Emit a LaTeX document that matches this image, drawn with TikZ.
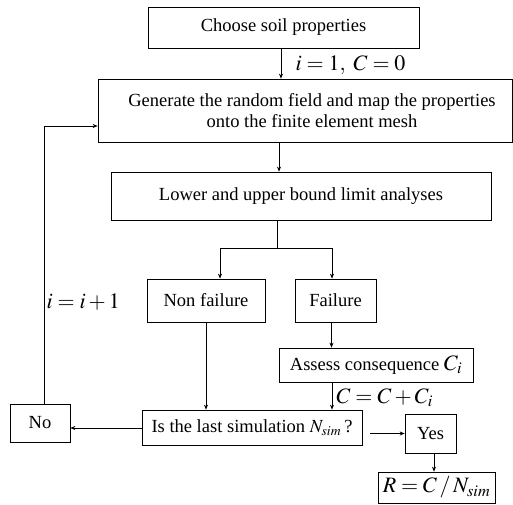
\documentclass[tikz,border=0pt]{standalone}
\usepackage[no-math]{fontspec}
\usepackage{mathptmx}
\setmainfont{Liberation Serif}
\usetikzlibrary{arrows.meta,calc}
\begin{document}
\begin{tikzpicture}[x=1pt,y=1pt,
  box/.style={draw,line width=0.7pt,inner sep=0pt,align=center,font=\fontsize{18.5}{21}\selectfont},
  arr/.style={line width=0.7pt,-{Stealth[length=5pt,width=4pt]}},
  ln/.style={line width=0.7pt},
  lab/.style={font=\fontsize{22}{24}\selectfont}]
\useasboundingbox (0,0) rectangle (513,504);
\node[box,minimum width=271,minimum height=41] (choose) at (283.5,476.5) {Choose soil properties};
\node[box,minimum width=414,minimum height=63] (gen) at (305,393.5) {\hspace*{14pt}Generate the random field and map the properties\\\hspace*{14pt}onto the finite element mesh};
\node[box,minimum width=380,minimum height=48] (lub) at (301,308) {Lower and upper bound limit analyses};
\node[box,minimum width=118,minimum height=43] (nf) at (206,203.5) {Non failure};
\node[box,minimum width=81,minimum height=43] (fail) at (335.5,203.5) {Failure};
\node[box,minimum width=194,minimum height=34] (assess) at (376,139) {Assess consequence {\fontsize{22}{24}\selectfont$C_i$}};
\node[box,minimum width=220,minimum height=35] (last) at (252,76.5) {Is the last simulation $N_{\mathit{sim}}$\,?};
\node[box,minimum width=60,minimum height=38] (no) at (40,81) {No};
\node[box,minimum width=51,minimum height=39] (yes) at (430.5,70.5) {Yes};
\node[box,minimum width=117,minimum height=31,font=\fontsize{22}{24}\selectfont] (res) at (436.5,16.5) {$R=C\,/\,N_{\mathit{sim}}$};
\node[lab,anchor=west] (l1) at (292,439) {$i=1,\ C=0$};
\node[lab,anchor=west] (l2) at (43,202) {$i=i+1$};
\node[lab,anchor=west] (l3) at (333,106) {$C=C+C_i$};
\coordinate (split) at (277,256);
\coordinate (ystart) at (370,70.5);
\draw[arr] ([xshift=-2.5pt]choose.south) -- ([xshift=-2.5pt]choose.south |- gen.north);
\draw[arr] ([xshift=-26pt]gen.south) -- ([xshift=-26pt]gen.south |- lub.north);
\draw[ln] ([xshift=-24pt]lub.south) -- (split);
\draw[arr] (split) -| ([xshift=14pt]nf.north);
\draw[arr] (split) -| ([xshift=-3.5pt]fail.north);
\draw[arr] ([xshift=-4pt]fail.south) -- ([xshift=-4pt]fail.south |- assess.north);
\draw[arr] ([xshift=-44pt]assess.south) -- ([xshift=-44pt]assess.south |- last.north);
\draw[arr] (nf.south) -- (nf.south |- last.north);
\draw[arr] ([yshift=-0.5pt]last.west) -- ([yshift=-0.5pt]last.west -| no.east);
\draw[arr] ([xshift=4pt]no.north) |- ([yshift=-15.5pt]gen.west);
\draw[arr] (ystart) -- (yes.west);
\draw[arr] ([xshift=3.5pt]yes.south) -- ([xshift=3.5pt]yes.south |- res.north);
\end{tikzpicture}
\end{document}
